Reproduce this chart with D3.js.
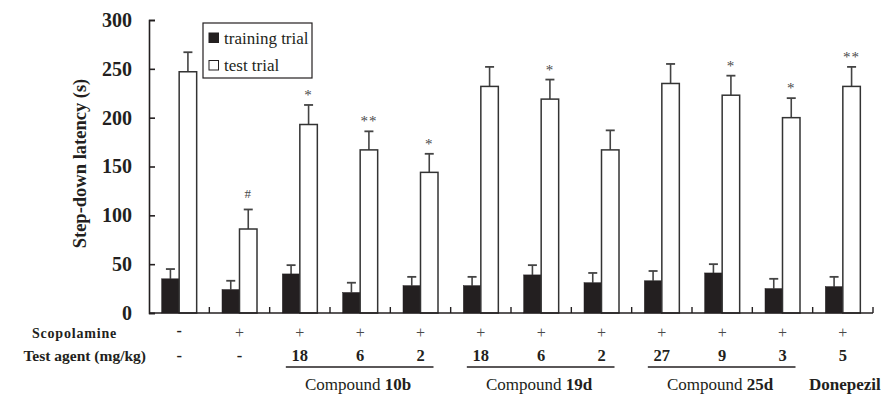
<!DOCTYPE html>
<html>
<head>
<meta charset="utf-8">
<script src="https://cdn.jsdelivr.net/npm/d3@7"></script>
<style>
  body { margin: 0; background: #fff; }
  svg { display: block; font-family: "Liberation Serif", "Times New Roman", serif; }
</style>
</head>
<body>
<div id="chart"></div>
<script>
// ── Datos ────────────────────────────────────────────
const groups       = ['ctrl', 'scop', '10b-18', '10b-6', '10b-2', '19d-18', '19d-6', '19d-2', '25d-27', '25d-9', '25d-3', 'don-5'];
const trainingMean = [35, 24, 40, 21, 28, 28, 39, 31, 33, 41, 25, 27];
const trainingErr  = [10, 9, 9, 10, 9, 9, 10, 10, 10, 9, 10, 10];
const testMean     = [247, 86, 193, 167, 144, 232, 219, 167, 235, 223, 200, 232];
const testErr      = [20, 20, 20, 19, 19, 20, 20, 20, 20, 20, 20, 20];
const marks        = ['', '#', '*', '**', '*', '', '*', '', '', '*', '*', '**'];
const scopolamine  = ['-', '+', '+', '+', '+', '+', '+', '+', '+', '+', '+', '+'];
const doses        = ['-', '-', '18', '6', '2', '18', '6', '2', '27', '9', '3', '5'];
const compounds    = [
  { name: 'Compound ', bold: '10b', from: 2, to: 4, line: true },
  { name: 'Compound ', bold: '19d', from: 5, to: 7, line: true },
  { name: 'Compound ', bold: '25d', from: 8, to: 10, line: true },
  { name: '', bold: 'Donepezil', from: 11, to: 11, line: false }
];
const yTicks = [0, 50, 100, 150, 200, 250, 300];

// ── Dimensiones ──────────────────────────────────────
const W = 882, H = 395;
const margin = { top: 20, right: 9, bottom: 82, left: 149 };
const ink = '#231f20';

const svg = d3.select('#chart').append('svg')
  .attr('width', W).attr('height', H);

const x = d3.scaleBand()
  .domain(groups)
  .range([margin.left, W - margin.right])
  .paddingInner(0).paddingOuter(0);

const y = d3.scaleLinear()
  .domain([0, 300])
  .range([H - margin.bottom, margin.top]);

const barW = 17.5;
const sub = d3.scaleBand().domain(['train', 'test'])
  .range([x.bandwidth() / 2 - barW, x.bandwidth() / 2 + barW]);

// ── Eje Y ────────────────────────────────────────────
const yAxis = svg.append('g')
  .attr('transform', `translate(${margin.left},0)`)
  .call(d3.axisLeft(y).tickValues(yTicks).tickSize(-6).tickPadding(17));
yAxis.select('.domain').attr('stroke', ink).attr('stroke-width', 1.6);
yAxis.selectAll('.tick line').attr('stroke', ink).attr('stroke-width', 1.6);
yAxis.selectAll('.tick text')
  .attr('fill', ink)
  .style('font-family', '"Liberation Serif", serif')
  .style('font-size', '20px')
  .style('font-weight', 'bold');

svg.append('text')
  .attr('transform', `translate(86,${(y(0) + y(300)) / 2 - 3}) rotate(-90)`)
  .attr('text-anchor', 'middle')
  .attr('fill', ink)
  .style('font-size', '18.5px')
  .style('font-weight', 'bold')
  .text('Step-down latency (s)');

// ── Barras ───────────────────────────────────────────
const g = svg.append('g');
const series = [
  { key: 'train', mean: trainingMean, err: trainingErr, fill: ink },
  { key: 'test',  mean: testMean,     err: testErr,     fill: '#fff' }
];

series.forEach(s => {
  const cx = (d, i) => x(groups[i]) + sub(s.key) + sub.bandwidth() / 2;

  // barra de error (solo hacia arriba)
  g.selectAll(null).data(s.mean).join('line')
    .attr('x1', cx).attr('x2', cx)
    .attr('y1', d => y(d)).attr('y2', (d, i) => y(d + s.err[i]))
    .attr('stroke', '#444').attr('stroke-width', 1.6);
  g.selectAll(null).data(s.mean).join('line')
    .attr('x1', (d, i) => cx(d, i) - 4.5).attr('x2', (d, i) => cx(d, i) + 4.5)
    .attr('y1', (d, i) => y(d + s.err[i])).attr('y2', (d, i) => y(d + s.err[i]))
    .attr('stroke', '#444').attr('stroke-width', 1.8);

  g.selectAll(null).data(s.mean).join('rect')
    .attr('x', (d, i) => x(groups[i]) + sub(s.key))
    .attr('y', d => y(d))
    .attr('width', sub.bandwidth())
    .attr('height', d => y(0) - y(d))
    .attr('fill', s.fill)
    .attr('stroke', s.key === 'test' ? '#333' : ink)
    .attr('stroke-width', s.key === 'test' ? 1.5 : 0.5);
});

// significancia
g.selectAll(null).data(marks).join('text')
  .attr('x', (d, i) => x(groups[i]) + sub('test') + sub.bandwidth() / 2)
  .attr('y', (d, i) => y(testMean[i] + testErr[i]) - (d === '#' ? 11 : 5))
  .attr('text-anchor', 'middle')
  .attr('fill', '#4a4a4a')
  .style('font-size', d => d === '#' ? '13px' : '15px')
  .style('letter-spacing', '1px')
  .text(d => d);

// ── Eje X ────────────────────────────────────────────
svg.append('line')
  .attr('x1', margin.left).attr('x2', W - margin.right)
  .attr('y1', y(0)).attr('y2', y(0))
  .attr('stroke', ink).attr('stroke-width', 1.6);
svg.selectAll(null).data(groups).join('line')
  .attr('x1', d => x(d) + x.bandwidth()).attr('x2', d => x(d) + x.bandwidth())
  .attr('y1', y(0)).attr('y2', y(0) - 6)
  .attr('stroke', ink).attr('stroke-width', 1.4);

// ── Tabla inferior ───────────────────────────────────
const rowScop = 338, rowDose = 361;
const center = d => x(d) + x.bandwidth() / 2;

svg.append('text')
  .attr('x', 117).attr('y', rowScop)
  .attr('text-anchor', 'end')
  .attr('fill', ink)
  .style('font-size', '14px').style('font-weight', 'bold').style('letter-spacing', '0.8px')
  .text('Scopolamine');
svg.append('text')
  .attr('x', 146).attr('y', rowDose)
  .attr('text-anchor', 'end')
  .attr('fill', ink)
  .style('font-size', '15.5px').style('font-weight', 'bold')
  .text('Test agent (mg/kg)');

svg.selectAll(null).data(scopolamine).join('text')
  .attr('x', (d, i) => center(groups[i]))
  .attr('y', (d, i) => rowScop - (d === '-' ? 2 : 0))
  .attr('text-anchor', 'middle')
  .attr('fill', d => d === '-' ? ink : '#4a4a4a')
  .style('font-size', '16px')
  .style('font-weight', d => d === '-' ? 'bold' : 'normal')
  .text(d => d);

svg.selectAll(null).data(doses).join('text')
  .attr('x', (d, i) => center(groups[i]))
  .attr('y', rowDose)
  .attr('text-anchor', 'middle')
  .attr('fill', ink)
  .style('font-size', '16.5px').style('font-weight', 'bold')
  .text(d => d);

compounds.forEach(c => {
  const a = center(groups[c.from]), b = center(groups[c.to]);
  if (c.line) {
    svg.append('line')
      .attr('x1', a - 14).attr('x2', b + 13)
      .attr('y1', 367).attr('y2', 367)
      .attr('stroke', ink).attr('stroke-width', 1.3);
  }
  const t = svg.append('text')
    .attr('x', (a + b) / 2 + (c.line ? -2 : 2)).attr('y', 390)
    .attr('text-anchor', 'middle')
    .attr('fill', ink)
    .style('font-size', '17px');
  if (c.name) t.append('tspan').text(c.name);
  t.append('tspan').style('font-weight', 'bold').text(c.bold);
});

// ── Leyenda ──────────────────────────────────────────
const leg = svg.append('g').attr('transform', 'translate(203,23)');
leg.append('rect')
  .attr('width', 109).attr('height', 55)
  .attr('fill', '#fff').attr('stroke', ink).attr('stroke-width', 1.2);
series.forEach((s, i) => {
  const row = leg.append('g').attr('transform', `translate(6,${10 + i * 27.5})`);
  row.append('rect')
    .attr('width', 9.5).attr('height', 9.5)
    .attr('fill', s.fill).attr('stroke', ink).attr('stroke-width', 1);
  row.append('text')
    .attr('x', 15).attr('y', 10.5)
    .attr('fill', ink)
    .style('font-size', '17px')
    .text(i === 0 ? 'training trial' : 'test trial');
});
</script>
</body>
</html>
